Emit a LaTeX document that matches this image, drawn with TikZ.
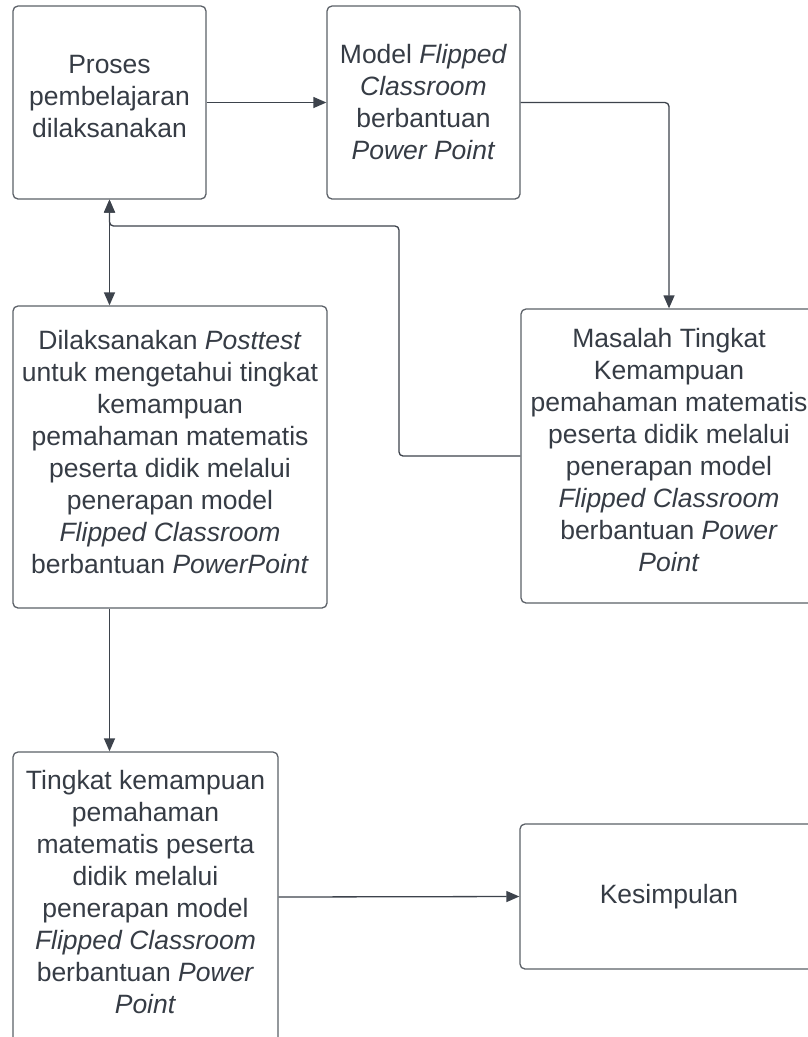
\documentclass[tikz,border=0pt]{standalone}
\usepackage{fontspec}
\setmainfont{Liberation Sans}
\usetikzlibrary{arrows.meta}
\definecolor{txt}{HTML}{363C45}
\definecolor{edge}{HTML}{5C6168}
\definecolor{conn}{HTML}{3D434C}
\newcommand\lowerby[1]{\rule[-#1]{0pt}{#1}}
\tikzset{
  box/.style={draw=edge, line width=1.3pt, rounded corners=5pt, fill=white,
    text=txt, align=center, inner sep=0pt,
    font=\fontsize{26.5pt}{32pt}\selectfont},
  conn/.style={draw=conn, line width=1.3pt, rounded corners=4pt,
    -{Triangle[length=13pt,width=11pt]}},
  dconn/.style={draw=conn, line width=1.3pt,
    {Triangle[length=13pt,width=11pt]}-{Triangle[length=13pt,width=11pt]}}
}
\begin{document}
\begin{tikzpicture}[x=1pt,y=-1pt]
\clip (0,0) rectangle (808,1037);
\fill[white] (0,0) rectangle (808,1037);

\node[box, minimum width=193pt, minimum height=193pt] (A) at (109.5,102.5)
  {Proses\\pembelajaran\\dilaksanakan\lowerby{12pt}};
\node[box, minimum width=193pt, minimum height=193pt] (B) at (423.5,102.5)
  {Model \textit{Flipped}\\\textit{Classroom}\\berbantuan\\\textit{Power Point}};
\node[box, minimum width=314pt, minimum height=302pt] (C) at (170,457)
  {Dilaksanakan \textit{Posttest}\\untuk mengetahui tingkat\\kemampuan\\pemahaman matematis\\peserta didik melalui\\penerapan model\\\textit{Flipped Classroom}\\berbantuan \textit{PowerPoint}\lowerby{11pt}};
\node[box, minimum width=296pt, minimum height=294pt] (D) at (669,456)
  {Masalah Tingkat\\Kemampuan\\pemahaman matematis\\peserta didik melalui\\penerapan model\\\textit{Flipped Classroom}\\berbantuan \textit{Power}\\\textit{Point}\lowerby{12pt}};
\node[box, minimum width=265pt, minimum height=290pt] (E) at (145.5,897)
  {Tingkat kemampuan\\pemahaman\\matematis peserta\\didik melalui\\penerapan model\\\textit{Flipped Classroom}\\berbantuan \textit{Power}\\\textit{Point}\lowerby{11pt}};
\node[box, minimum width=298pt, minimum height=145pt] (F) at (669,896.5)
  {Kesimpulan};

\coordinate (fb) at (399,226);

\draw[conn] (A.east) -- (B.west);
\draw[conn] (B.east) -| (D.north);
\draw[conn] (D.west) -| (fb) -| (A.south);
\draw[dconn] (A.south) -- (A.south |- C.north);
\draw[conn] (A.south |- C.south) -- (A.south |- E.north);
\draw[conn] (E.east) -- (F.west);
\end{tikzpicture}
\end{document}
